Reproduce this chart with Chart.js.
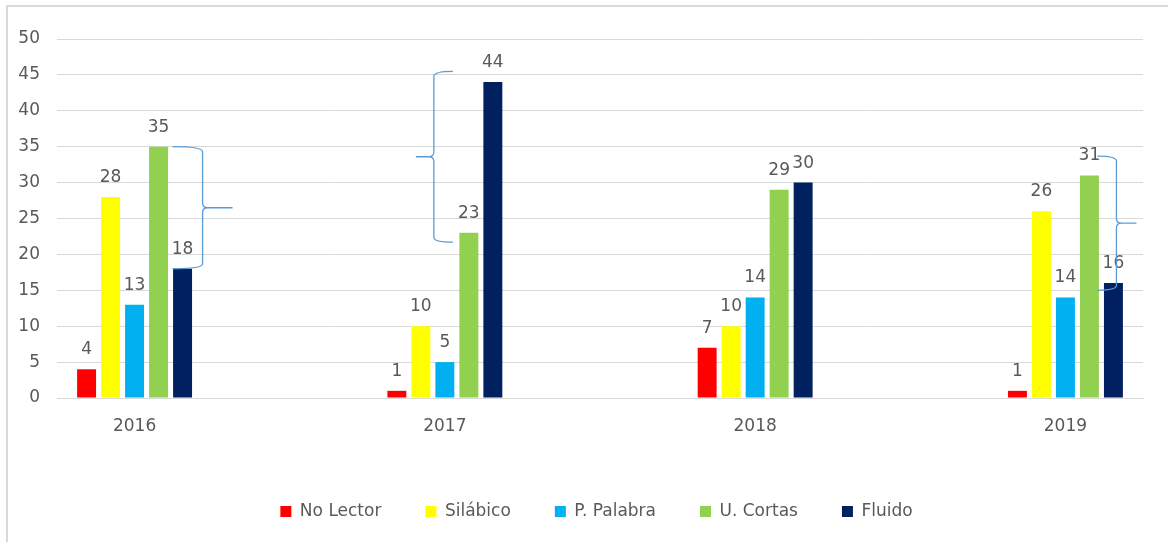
<!DOCTYPE html>
<html>
<head>
<meta charset="utf-8">
<script src="https://cdn.jsdelivr.net/npm/chart.js@4"></script>
<style>
  html, body { margin: 0; padding: 0; background: #fff; }
  #frame { position: absolute; left: 6px; top: 5px; width: 1162px; height: 537px;
           border-left: 2px solid #d9d9d9; border-top: 2px solid #d9d9d9; }
  #wrap { position: absolute; left: 0; top: 0; width: 1168px; height: 542px; }
</style>
</head>
<body>
<div id="frame"></div>
<div id="wrap"><canvas id="lectura"></canvas></div>
<script>
// niveles de lectura por año
const years = [2016, 2017, 2018, 2019];
const noLector = [4, 1, 7, 1];
const silabico = [28, 10, 10, 26];
const pPalabra = [13, 5, 14, 14];
const uCortas = [35, 23, 29, 31];
const fluido = [18, 44, 30, 16];
const seriesNames = ['No Lector', 'Silábico', 'P. Palabra', 'U. Cortas', 'Fluido'];
const yMax = 50;
const yStep = 5;

const colors = ['#ff0000', '#ffff00', '#00b0f0', '#92d050', '#002060'];
const textColor = '#595959';
const digitFont = { family: '"DejaVu Sans"', size: 17 };

const series = [noLector, silabico, pPalabra, uCortas, fluido];

// value labels above each bar
const valueLabels = {
  id: 'valueLabels',
  afterDatasetsDraw(chart) {
    const ctx = chart.ctx;
    ctx.save();
    ctx.font = '17px "DejaVu Sans"';
    ctx.fillStyle = textColor;
    ctx.textAlign = 'center';
    ctx.textBaseline = 'alphabetic';
    chart.data.datasets.forEach((ds, i) => {
      chart.getDatasetMeta(i).data.forEach((bar, j) => {
        ctx.fillText(ds.data[j].y, bar.x, bar.y - 15);
      });
    });
    ctx.restore();
  }
};

// curly brackets drawn next to some groups
function drawBrace(ctx, xa, xs, xt, yt, yb) {
  const ym = (yt + yb) / 2;
  const d = Math.sign(xs - xa);
  const r = 5;
  ctx.beginPath();
  ctx.moveTo(xa, yt);
  ctx.quadraticCurveTo(xs, yt, xs, yt + r);
  ctx.lineTo(xs, ym - r);
  ctx.quadraticCurveTo(xs, ym, xs + d * r, ym);
  ctx.lineTo(xt, ym);
  ctx.moveTo(xs + d * r, ym);
  ctx.quadraticCurveTo(xs, ym, xs, ym + r);
  ctx.lineTo(xs, yb - r);
  ctx.quadraticCurveTo(xs, yb, xa, yb);
  ctx.stroke();
}

const braces = {
  id: 'braces',
  afterDatasetsDraw(chart) {
    const xs = chart.scales.x, ys = chart.scales.y, ctx = chart.ctx;
    const list = [
      { year: 2016, top: 35, bottom: 18, arm: 38, spine: 68, tip: 98 },
      { year: 2017, top: 45.5, bottom: 21.7, arm: 8, spine: -11, tip: -29 },
      { year: 2019, top: 33.7, bottom: 15, arm: 32, spine: 51, tip: 71 }
    ];
    ctx.save();
    ctx.strokeStyle = '#5b9bd5';
    ctx.lineWidth = 1.3;
    list.forEach(b => {
      const cx = xs.getPixelForValue(b.year);
      drawBrace(ctx, cx + b.arm, cx + b.spine, cx + b.tip,
        ys.getPixelForValue(b.top), ys.getPixelForValue(b.bottom));
    });
    ctx.restore();
  }
};

// legend is not centred in the original
const legendShift = {
  id: 'legendShift',
  afterLayout(chart) {
    chart.legend.left += 25;
    chart.legend.right += 25;
  }
};

new Chart(document.getElementById('lectura'), {
  type: 'bar',
  data: {
    datasets: series.map((vals, i) => ({
      label: seriesNames[i],
      data: years.map((yr, j) => ({ x: yr, y: vals[j] })),
      backgroundColor: colors[i],
      borderWidth: 0,
      barPercentage: 0.79,
      categoryPercentage: 0.3867
    }))
  },
  options: {
    responsive: true,
    maintainAspectRatio: false,
    animation: false,
    layout: { padding: { left: 0, right: 25, top: 39, bottom: 12 } },
    scales: {
      x: {
        type: 'linear',
        min: 2015.75,
        max: 2019.25,
        offset: false,
        grid: { display: false, drawTicks: false },
        border: { display: true, color: '#d9d9d9' },
        afterBuildTicks: (s) => { s.ticks = years.map(v => ({ value: v })); },
        afterFit: (s) => { s.height = 61; },
        ticks: { padding: 18, color: textColor, font: digitFont, maxRotation: 0, autoSkip: false,
                 callback: (v) => String(v) }
      },
      y: {
        min: 0,
        max: yMax,
        grid: { color: '#d9d9d9', drawTicks: false },
        border: { display: false },
        afterFit: (s) => { s.width = 57; },
        ticks: { stepSize: yStep, padding: 17, color: textColor, font: digitFont }
      }
    },
    plugins: {
      tooltip: { enabled: false },
      legend: {
        position: 'bottom',
        labels: { boxWidth: 11, boxHeight: 11, padding: 44, color: textColor,
                  font: { family: '"DejaVu Sans"', size: 17 } }
      }
    }
  },
  plugins: [valueLabels, braces, legendShift]
});
</script>
</body>
</html>
